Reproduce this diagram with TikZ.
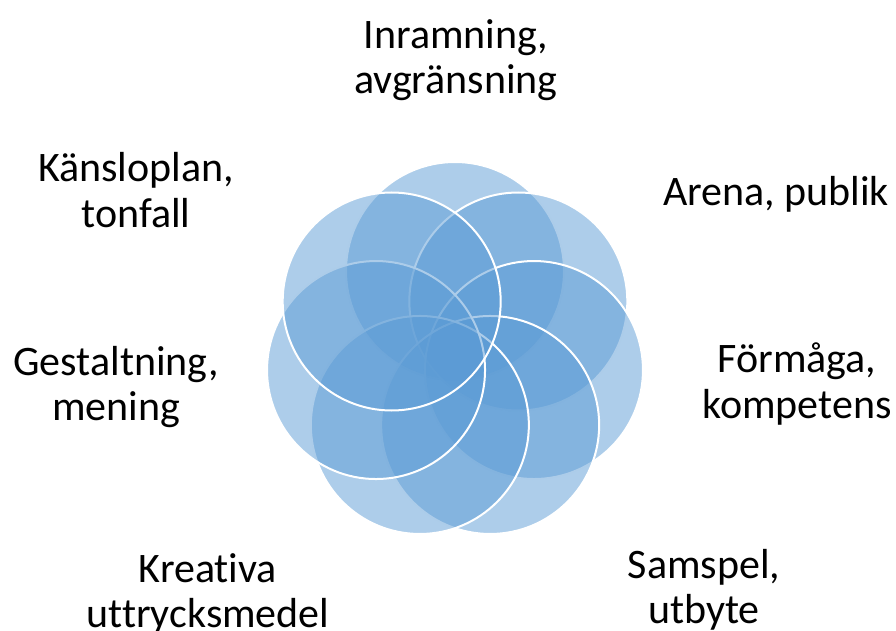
\documentclass[tikz,border=0pt]{standalone}
\usepackage{fontspec}
\setmainfont{Carlito}[Ligatures=NoCommon]
\usepackage{tikz}
\usetikzlibrary{positioning}

\definecolor{petalblue}{RGB}{91,155,213}

\tikzset{
  petal/.style={circle, draw=white, line width=2pt, fill=petalblue,
    fill opacity=0.5, minimum size=218pt, inner sep=0pt},
  petaltext/.style={align=center, inner sep=0pt,
    font=\fontsize{42}{45.5}\selectfont}
}

\begin{document}
\begin{tikzpicture}[x=1pt,y=1pt]
\useasboundingbox (0,0) rectangle (896,630);
\clip (0,0) rectangle (896,630);

% Petals, clockwise from the top
\coordinate (hub) at (455,278);
\begin{scope}[shift={(hub)}]
\foreach \k in {0,...,6}
  \node[petal] (petal\k) at ({90-\k*360/7}:81) {};
\end{scope}

% Labels
\node[petaltext] (frame) at (456,570) {Inramning,\\avgränsning};
\node[petaltext] (arena) at (776,436) {Arena, publik};
\node[petaltext] (ability) at (797,246) {Förmåga,\\kompetens};
\node[petaltext] (interplay) at (704,40) {Samspel,\\utbyte};
\node[petaltext] (means) at (208,36) {Kreativa\\uttrycksmedel};
\node[petaltext] (shaping) at (116,243) {Gestaltning,\\mening};
\node[petaltext] (feeling) at (136,440) {Känsloplan,\\tonfall};

\end{tikzpicture}
\end{document}
